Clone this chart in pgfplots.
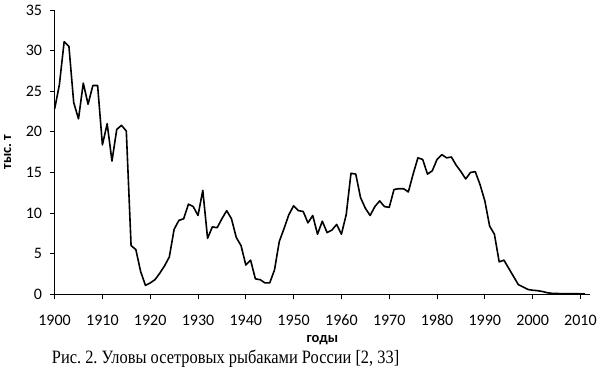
\documentclass[border=0pt]{standalone}
\usepackage{fontspec}
\setmainfont{Liberation Serif}
\newfontfamily\calibri{Carlito}
\usepackage{graphicx}
\usepackage{pgfplots}
\pgfplotsset{compat=1.18}
\frenchspacing
\begin{document}
\begin{tikzpicture}
\begin{axis}[
  scale only axis,
  width=535.4pt, height=284.3pt,
  xmin=1900, xmax=2012, ymin=0, ymax=35,
  axis x line*=bottom, axis y line*=left,
  axis line style={black, line width=0.8pt, -},
  xtick={1900,1910,...,2010},
  ytick={0,5,...,35},
  tick align=outside,
  major tick length=5pt,
  tick style={black, line width=0.8pt},
  ticklabel style={font=\calibri\fontsize{16}{19}\selectfont},
  /pgf/number format/assume math mode=true,
  /pgf/number format/set thousands separator={},
  xticklabel style={yshift=-12pt},
  yticklabel style={xshift=-4pt},
  xlabel={годы},
  ylabel={тыс. т},
  xlabel style={font=\calibri\bfseries\fontsize{14.5}{17}\selectfont, at={(axis description cs:0.5,-0.161)}, anchor=center},
  ylabel style={font=\calibri\bfseries\fontsize{14.5}{17}\selectfont, at={(axis description cs:-0.0878,0.5)}, anchor=center, rotate=0},
  clip=false,
]
\addplot[black, line width=1.6pt, line join=round] table {
1900 22.8
1901 25.8
1902 31.1
1903 30.5
1904 23.6
1905 21.6
1906 26.0
1907 23.4
1908 25.7
1909 25.7
1910 18.4
1911 21.0
1912 16.4
1913 20.3
1914 20.8
1915 20.1
1916 6.0
1917 5.5
1918 2.8
1919 1.1
1920 1.4
1921 1.8
1922 2.6
1923 3.5
1924 4.6
1925 8.0
1926 9.1
1927 9.3
1928 11.1
1929 10.8
1930 9.7
1931 12.8
1932 6.9
1933 8.3
1934 8.2
1935 9.3
1936 10.3
1937 9.3
1938 7.0
1939 6.0
1940 3.6
1941 4.2
1942 1.9
1943 1.8
1944 1.4
1945 1.4
1946 3.0
1947 6.5
1948 8.1
1949 9.8
1950 10.9
1951 10.3
1952 10.2
1953 8.8
1954 9.7
1955 7.4
1956 9.0
1957 7.6
1958 7.9
1959 8.6
1960 7.4
1961 9.8
1962 14.9
1963 14.8
1964 11.9
1965 10.6
1966 9.7
1967 10.8
1968 11.5
1969 10.8
1970 10.7
1971 12.9
1972 13.0
1973 13.0
1974 12.6
1975 14.8
1976 16.8
1977 16.6
1978 14.8
1979 15.2
1980 16.6
1981 17.2
1982 16.8
1983 16.9
1984 15.9
1985 15.1
1986 14.2
1987 15.0
1988 15.1
1989 13.5
1990 11.5
1991 8.4
1992 7.4
1993 4.0
1994 4.2
1995 3.2
1996 2.2
1997 1.2
1998 0.9
1999 0.6
2000 0.5
2001 0.45
2002 0.35
2003 0.2
2004 0.12
2005 0.1
2006 0.08
2007 0.08
2008 0.07
2009 0.07
2010 0.06
2011 0.05
};
\end{axis}
\node[anchor=base west, font=\fontsize{16.4}{19}\selectfont, inner sep=0pt] at (-2.9pt,-69pt) {\scalebox{1}[1.15]{Рис. 2. Уловы осетровых рыбаками России [2, 33]}};
\path[use as bounding box] (-54.6pt,-80.7pt) rectangle (553.4pt,294.3pt);
\end{tikzpicture}
\end{document}
